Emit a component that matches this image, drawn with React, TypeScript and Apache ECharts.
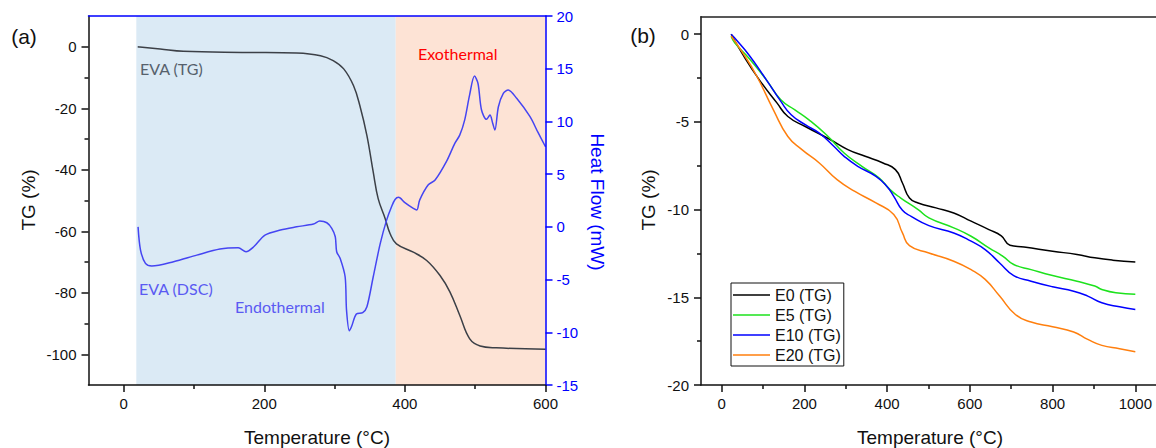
import React, { useEffect, useRef } from "react";
import * as echarts from "echarts";

// ---- Panel (a): EVA thermal analysis ----
const evaTgTemp = [20, 23, 52, 85, 175, 246, 280, 298, 313, 327, 336, 346, 355, 362, 372, 379, 388, 412, 431, 450, 464, 478, 492, 507, 530, 600];
const evaTgValue = [0, -0.1, -0.75, -1.5, -1.83, -2.05, -2.9, -4.5, -7.2, -12.7, -19.2, -28.9, -40.8, -49.4, -55.9, -60.8, -64.1, -66.8, -69.5, -74.4, -79.7, -87.3, -94.9, -97.3, -97.9, -98.4];

const evaDscTemp = [20.5, 24, 31, 40, 71, 104, 137, 163, 174, 185, 201, 223, 246, 270, 279, 289, 296, 301, 303, 308, 315, 317, 321, 324, 331, 340, 346, 355, 365, 374, 381, 386, 391, 400, 412, 417, 421, 433, 443, 459, 471, 478, 485, 492, 499, 504, 509, 516, 521, 525, 528, 533, 540, 547, 559, 578, 589, 600];
const evaDscValue = [0, -2.2, -3.46, -3.72, -3.31, -2.68, -2.1, -1.98, -2.36, -1.89, -0.78, -0.3, 0, 0.27, 0.55, 0.39, -0.14, -0.94, -2.36, -3.0, -4.73, -7.9, -9.86, -9.48, -8.27, -8.14, -7.58, -4.73, -1.57, 0.64, 1.91, 2.6, 2.8, 2.3, 1.75, 1.6, 2.54, 3.97, 4.44, 6.18, 7.92, 8.7, 10.13, 12.5, 14.3, 13.6, 11.08, 10.2, 10.6, 9.8, 9.18, 11.39, 12.66, 12.98, 12.19, 10.45, 9.0, 7.6];

const endoRange = [18, 387];
const exoRange = [387, 600];

const aXTicks = [0, 200, 400, 600];
const aXMinor = [100, 300, 500];
const aYTicks = [-100, -80, -60, -40, -20, 0];
const aYMinor = [-90, -70, -50, -30, -10];

// ---- Panel (b): TG of E0..E20 ----
const seriesNames = ["E0 (TG)", "E5 (TG)", "E10 (TG)", "E20 (TG)"];
const seriesColors = ["#000000", "#1de21d", "#0000ff", "#ff7f0e"];

const e0Temp = [23, 49, 91, 134, 160, 202, 262, 305, 347, 390, 420, 437, 454, 475, 518, 561, 603, 646, 676, 697, 731, 800, 859, 902, 945, 1000];
const e0Value = [0, -1.08, -2.6, -3.93, -4.69, -5.26, -6.0, -6.58, -6.96, -7.34, -7.72, -8.48, -9.34, -9.62, -9.9, -10.19, -10.66, -11.14, -11.5, -12.03, -12.13, -12.37, -12.56, -12.75, -12.88, -12.98];

const e5Temp = [23, 32, 66, 108, 143, 177, 211, 253, 296, 339, 381, 407, 433, 475, 501, 561, 603, 646, 680, 706, 748, 800, 859, 902, 919, 953, 1000];
const e5Value = [-0.13, -0.5, -1.37, -2.6, -3.74, -4.31, -4.88, -5.73, -6.77, -7.53, -8.2, -8.86, -9.34, -10.0, -10.47, -11.04, -11.52, -12.18, -12.66, -13.13, -13.42, -13.76, -14.08, -14.36, -14.55, -14.74, -14.82];

const e10Temp = [23, 32, 66, 108, 143, 168, 202, 236, 271, 296, 329, 373, 399, 416, 437, 458, 501, 561, 603, 637, 672, 706, 748, 800, 851, 885, 919, 962, 1000];
const e10Value = [0, -0.23, -1.18, -2.6, -3.83, -4.59, -5.16, -5.64, -6.39, -6.96, -7.53, -8.1, -8.67, -9.24, -10.04, -10.38, -10.91, -11.33, -11.8, -12.28, -13.04, -13.76, -14.08, -14.4, -14.65, -14.93, -15.31, -15.54, -15.69];

const e20Temp = [23, 49, 83, 125, 160, 194, 236, 279, 322, 373, 416, 437, 454, 501, 561, 603, 637, 672, 710, 748, 800, 851, 885, 919, 962, 1000];
const e20Value = [-0.1, -0.99, -2.31, -4.31, -5.83, -6.58, -7.34, -8.29, -8.96, -9.62, -10.28, -11.33, -12.05, -12.47, -12.94, -13.42, -13.98, -14.93, -15.98, -16.41, -16.68, -16.98, -17.4, -17.74, -17.93, -18.1];

const bXTicks = [0, 200, 400, 600, 800, 1000];
const bXMinor = [100, 300, 500, 700, 900];
const bYTicks = [-20, -15, -10, -5, 0];
const bYMinor = [-17.5, -12.5, -7.5, -2.5];

const zip = (xs: number[], ys: number[]) => xs.map((x, i) => [x, ys[i]]);

const FONT = "Liberation Sans";
const ANNOT_FONT = "Lato";
const AXIS_W = 1.5;
const AXIS_Z = 10;
const plain = (v: number) => String(v);

function majorXAxis(grid: number, min: number, max: number, ticks: number[]) {
  return {
    type: "value", gridIndex: grid, position: "bottom", min, max, z: AXIS_Z,
    axisLine: { show: true, onZero: false, lineStyle: { color: "#111", width: AXIS_W } },
    axisTick: { show: true, inside: false, length: 7, customValues: ticks, lineStyle: { color: "#111", width: AXIS_W } },
    axisLabel: { show: true, customValues: ticks, formatter: plain, margin: 11, fontSize: 15, fontFamily: FONT, color: "#111" },
    splitLine: { show: false },
  };
}
function minorXAxis(grid: number, min: number, max: number, ticks: number[]) {
  return {
    type: "value", gridIndex: grid, position: "bottom", min, max, z: AXIS_Z,
    axisLine: { show: false, onZero: false },
    axisTick: { show: true, inside: false, length: 4, customValues: ticks, lineStyle: { color: "#111", width: AXIS_W } },
    axisLabel: { show: false },
    splitLine: { show: false },
  };
}
function topXAxis(grid: number, min: number, max: number, color: string) {
  return {
    type: "value", gridIndex: grid, position: "top", min, max, z: AXIS_Z,
    axisLine: { show: true, onZero: false, lineStyle: { color, width: AXIS_W } },
    axisTick: { show: false }, axisLabel: { show: false }, splitLine: { show: false },
  };
}
function majorYAxis(grid: number, min: number, max: number, ticks: number[]) {
  return {
    type: "value", gridIndex: grid, position: "left", min, max, z: AXIS_Z,
    axisLine: { show: true, onZero: false, lineStyle: { color: "#111", width: AXIS_W } },
    axisTick: { show: true, inside: false, length: 7, customValues: ticks, lineStyle: { color: "#111", width: AXIS_W } },
    axisLabel: { show: true, customValues: ticks, formatter: plain, margin: 12, fontSize: 15, fontFamily: FONT, color: "#111" },
    splitLine: { show: false },
  };
}
function minorYAxis(grid: number, min: number, max: number, ticks: number[]) {
  return {
    type: "value", gridIndex: grid, position: "left", min, max, z: AXIS_Z,
    axisLine: { show: false, onZero: false },
    axisTick: { show: true, inside: false, length: 4, customValues: ticks, lineStyle: { color: "#111", width: AXIS_W } },
    axisLabel: { show: false },
    splitLine: { show: false },
  };
}

function text(x: number, y: number, str: string, opts: any = {}) {
  return {
    type: "text", x, y, z: 100, rotation: opts.rotation || 0,
    style: {
      text: str, fill: opts.color || "#111", font: `${opts.size || 19}px "${opts.family || FONT}"`,
      align: opts.align || "center", verticalAlign: "middle",
    },
  };
}

export default function App() {
  const ref = useRef<HTMLDivElement>(null);

  useEffect(() => {
    if (!ref.current) return;
    const chart = echarts.init(ref.current, undefined, { renderer: "svg" });

    const lineBase = { type: "line", symbol: "none", showSymbol: false, z: 3 };

    chart.setOption({
      animation: false,
      backgroundColor: "#fff",
      grid: [
        { left: 88.5, top: 16, width: 457, height: 369 },
        { left: 701, top: 16.7, width: 457, height: 368.3 },
      ],
      xAxis: [
        majorXAxis(0, -50, 600, aXTicks),
        minorXAxis(0, -50, 600, aXMinor),
        topXAxis(0, -50, 600, "#0000ff"),
        majorXAxis(1, -50, 1050, bXTicks),
        minorXAxis(1, -50, 1050, bXMinor),
        topXAxis(1, -50, 1050, "#222"),
      ],
      yAxis: [
        majorYAxis(0, -110, 10, aYTicks),
        minorYAxis(0, -110, 10, aYMinor),
        {
          type: "value", gridIndex: 0, position: "right", min: -15, max: 20, interval: 5, z: AXIS_Z,
          axisLine: { show: true, onZero: false, lineStyle: { color: "#0000ff", width: AXIS_W } },
          axisTick: { show: true, inside: false, length: 7, lineStyle: { color: "#0000ff", width: AXIS_W } },
          axisLabel: { show: true, margin: 11, fontSize: 15, fontFamily: FONT, color: "#0000ff" },
          splitLine: { show: false },
        },
        majorYAxis(1, -20, 1, bYTicks),
        minorYAxis(1, -20, 1, bYMinor),
      ],
      legend: {
        data: seriesNames.map((name) => ({ name, icon: "rect" })),
        orient: "vertical",
        left: 731, top: 283,
        itemWidth: 37, itemHeight: 1.6, itemGap: 4,
        padding: [4, 3, 3, 2],
        borderColor: "#111", borderWidth: 1, borderRadius: 0,
        backgroundColor: "#fff",
        textStyle: { fontSize: 16, fontFamily: FONT, color: "#111", lineHeight: 16 },
      },
      series: [
        {
          // endothermal / exothermal background bands
          type: "line", name: "regions", xAxisIndex: 0, yAxisIndex: 0, z: 1,
          data: [], silent: true,
          markArea: {
            silent: true,
            data: [
              [{ xAxis: endoRange[0], itemStyle: { color: "#dbeaf5" } }, { xAxis: endoRange[1] }],
              [{ xAxis: exoRange[0], itemStyle: { color: "#fde3d5" } }, { xAxis: exoRange[1] }],
            ],
          },
        },
        {
          ...lineBase, name: "EVA (TG)", xAxisIndex: 0, yAxisIndex: 0, smooth: 0.4,
          data: zip(evaTgTemp, evaTgValue),
          lineStyle: { color: "#3c4047", width: 1.5 },
        },
        {
          ...lineBase, name: "EVA (DSC)", xAxisIndex: 0, yAxisIndex: 2, smooth: 0.3,
          data: zip(evaDscTemp, evaDscValue),
          lineStyle: { color: "#4545f2", width: 1.5 },
        },
        ...[zip(e0Temp, e0Value), zip(e5Temp, e5Value), zip(e10Temp, e10Value), zip(e20Temp, e20Value)].map((d, i) => ({
          ...lineBase, name: seriesNames[i], xAxisIndex: 3, yAxisIndex: 3, smooth: 0.5,
          data: d,
          itemStyle: { color: seriesColors[i] },
          lineStyle: { color: seriesColors[i], width: 1.5 },
        })),
      ],
      graphic: [
        text(24, 36, "(a)", { size: 21 }),
        text(643, 35, "(b)", { size: 21 }),
        text(28, 200, "TG (%)", { rotation: Math.PI / 2 }),
        text(648, 200, "TG (%)", { rotation: Math.PI / 2 }),
        text(597, 202, "Heat Flow (mW)", { rotation: -Math.PI / 2, color: "#0000ff" }),
        text(317, 437, "Temperature (°C)"),
        text(930, 437, "Temperature (°C)"),
        text(140, 68, "EVA (TG)", { size: 16, family: ANNOT_FONT, color: "#56616c", align: "left" }),
        text(418, 53, "Exothermal", { size: 16, family: ANNOT_FONT, color: "#ff0000", align: "left" }),
        text(139, 288, "EVA (DSC)", { size: 16, family: ANNOT_FONT, color: "#5a5af2", align: "left" }),
        text(235, 306, "Endothermal", { size: 16, family: ANNOT_FONT, color: "#5a5af2", align: "left" }),
      ],
    });

    return () => chart.dispose();
  }, []);

  return (
    <div
      ref={ref}
      style={{ position: "fixed", left: 0, top: 0, width: 1156, height: 448, background: "#fff" }}
    />
  );
}
